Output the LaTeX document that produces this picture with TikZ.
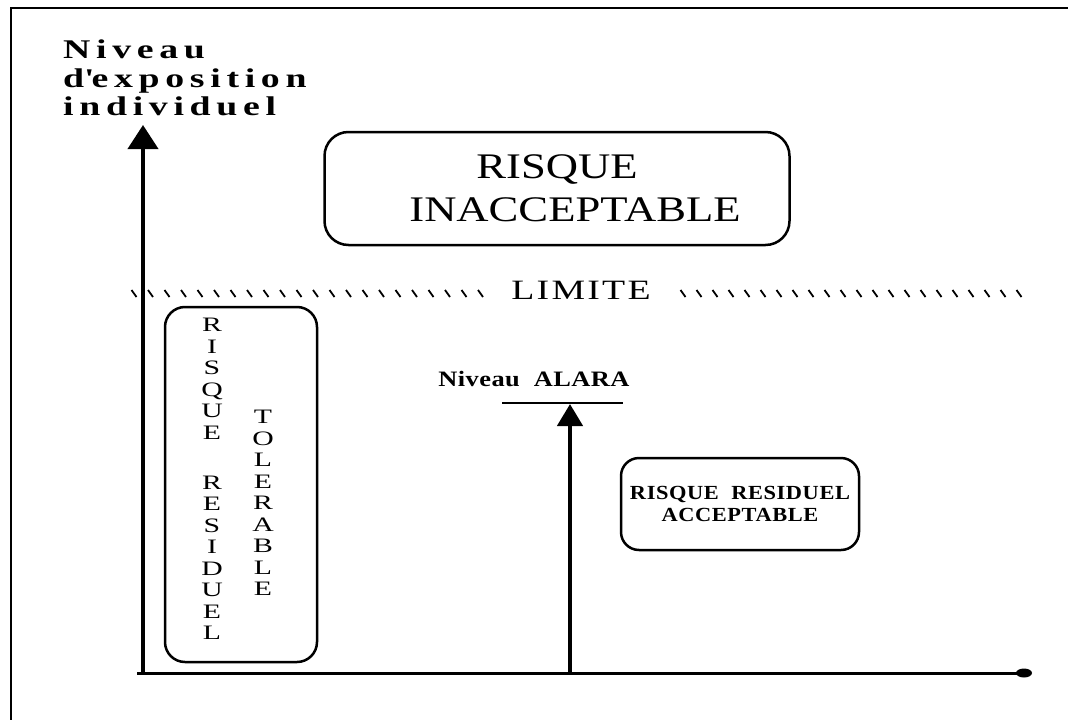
\documentclass[tikz,border=0pt]{standalone}
\usepackage{fontspec}
\setmainfont{Liberation Serif}
\usetikzlibrary{arrows.meta}

\begin{document}
\begin{tikzpicture}[x=1pt, y=-1pt,
  zone/.style={draw, line width=2.5pt, rounded corners=20pt, inner sep=0pt},
  axis/.style={line width=4pt, -{Triangle[width=30pt,length=24pt]}},
  tick/.style={line width=1.8pt}]

  \useasboundingbox (0,0) rectangle (1068,720);
  \draw [line width=2.5pt] (11,720) -- (11,8) -- (1068,8);

  \coordinate (O) at (143,673);
  \coordinate (Ytop) at (143,125);
  \coordinate (Xend) at (1024,673);
  \coordinate (Abase) at (570,673);
  \coordinate (Atop) at (570,404);
  \coordinate (Aleft) at (502,403);
  \coordinate (Aright) at (623,403);

  \node (ylabel) [anchor=north west, inner sep=0pt, align=left,
    font=\fontsize{27}{28.5}\selectfont\bfseries\addfontfeatures{FakeStretch=1.4,LetterSpace=21}]
    at (63,40) {Niveau\\d\textquotesingle exposition\\individuel};

  \draw [axis] (O) -- (Ytop);
  \draw [line width=3pt] (137,673) -- (Xend);
  \fill (Xend) ellipse (8pt and 4.5pt);

  \node (inacc) [zone, rounded corners=24pt, minimum width=465pt, minimum height=113pt, align=center,
    font=\fontsize{36}{43}\selectfont\addfontfeatures{FakeStretch=1.24}]
    at (557,188.5) {RISQUE\\\hspace*{36pt}INACCEPTABLE};

  \foreach \x in {134,150.5,...,490}
    \draw [tick] (\x-2.5,290) -- (\x+2.5,297);
  \foreach \x in {683,699,...,1020}
    \draw [tick] (\x-2.5,290) -- (\x+2.5,297);
  \node (limite) [anchor=base, inner sep=0pt,
    font=\fontsize{28}{30}\selectfont\addfontfeatures{FakeStretch=1.35,LetterSpace=8}]
    at (581,299) {LIMITE};

  \node (tolerable) [zone, minimum width=152pt, minimum height=355pt] at (241,484.5) {};
  \node (col1) [anchor=north, inner sep=0pt, align=center,
    font=\fontsize{20.5}{21.5}\selectfont\addfontfeatures{FakeStretch=1.45}]
    at (212,318) {R\\I\\S\\Q\\U\\E\\[28.5pt]R\\E\\S\\I\\D\\U\\E\\L};
  \node (col2) [anchor=north, inner sep=0pt, align=center,
    font=\fontsize{20.5}{21.5}\selectfont\addfontfeatures{FakeStretch=1.45}]
    at (263,410) {T\\O\\L\\E\\R\\A\\B\\L\\E};

  \node (alara) [anchor=base, inner sep=0pt,
    font=\fontsize{22}{24}\selectfont\bfseries\addfontfeatures{FakeStretch=1.2,LetterSpace=2}]
    at (534,386) {Niveau\ \ ALARA};
  \draw [line width=2.5pt] (Aleft) -- (Aright);
  \draw [line width=4.5pt, -{Triangle[width=25pt,length=22pt]}] (Abase) -- (Atop);

  \node (accept) [zone, rounded corners=18pt, minimum width=238pt, minimum height=92pt, align=center,
    font=\fontsize{20}{22}\selectfont\bfseries\addfontfeatures{FakeStretch=1.12,LetterSpace=3}]
    at (740,504) {RISQUE\ \ RESIDUEL\\ACCEPTABLE};

\end{tikzpicture}
\end{document}
